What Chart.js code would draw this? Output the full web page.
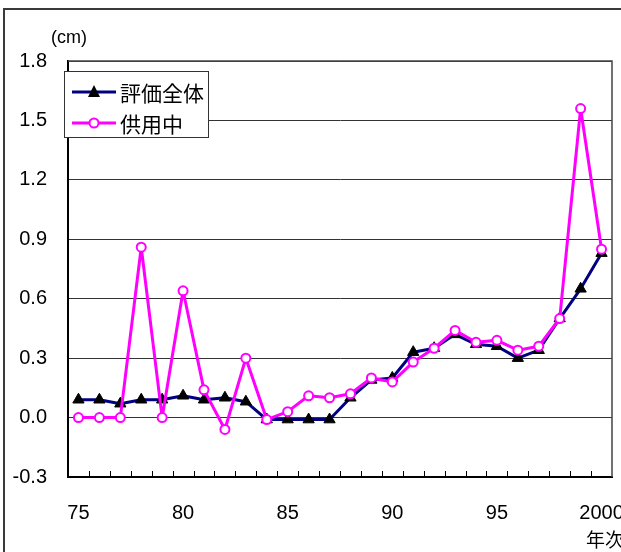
<!DOCTYPE html>
<html>
<head>
<meta charset="utf-8">
<script src="https://cdn.jsdelivr.net/npm/chart.js@4/dist/chart.umd.min.js"></script>
<style>
  html, body { margin: 0; padding: 0; background: #fff; }
  #wrap { width: 621px; height: 552px; position: relative; }
</style>
</head>
<body>
<div id="wrap"><canvas id="chart" width="621" height="552"></canvas></div>
<script>
// Data
const years = ['75', '76', '77', '78', '79', '80', '81', '82', '83', '84', '85', '86', '87',
               '88', '89', '90', '91', '92', '93', '94', '95', '96', '97', '98', '99', '2000'];
const shownYears = ['75', '80', '85', '90', '95', '2000'];
const overall = [0.09, 0.09, 0.07, 0.09, 0.09, 0.11, 0.09, 0.10, 0.08, -0.01, -0.01, -0.01, -0.01,
                 0.10, 0.19, 0.20, 0.33, 0.35, 0.42, 0.37, 0.36, 0.30, 0.34, 0.50, 0.65, 0.83];
const inService = [0.00, 0.00, 0.00, 0.86, 0.00, 0.64, 0.14, -0.06, 0.30, -0.01, 0.03, 0.11, 0.10,
                   0.12, 0.20, 0.18, 0.28, 0.35, 0.44, 0.38, 0.39, 0.34, 0.36, 0.50, 1.56, 0.85];
const seriesNames = ['評価全体', '供用中'];
const yMin = -0.3, yMax = 1.8, yStep = 0.3;
const unitLabel = '(cm)';
const xAxisTitle = '年次';

const NAVY = '#000080';
const MAGENTA = '#ff00ff';
const latin = '"Liberation Sans", Arial, sans-serif';
const cjk = '"Noto Sans CJK JP", sans-serif';

// frame, plot border, inner x ticks, legend and extra labels
const decorations = {
    id: 'decorations',
    beforeDraw(chart) {
        const ctx = chart.ctx;
        ctx.save();
        ctx.fillStyle = '#fff';
        ctx.fillRect(0, 0, chart.width, chart.height);
        ctx.restore();
    },
    afterDraw(chart) {
        const ctx = chart.ctx;
        const area = chart.chartArea;
        const x = chart.scales.x;
        ctx.save();

        // outer frame (top + left only)
        ctx.strokeStyle = '#3a3a3a';
        ctx.lineWidth = 2;
        ctx.beginPath();
        ctx.moveTo(4, chart.height);
        ctx.lineTo(4, 9);
        ctx.lineTo(chart.width, 9);
        ctx.stroke();

        // plot top/right border
        ctx.strokeStyle = '#444';
        ctx.lineWidth = 1.5;
        ctx.beginPath();
        ctx.moveTo(area.left, area.top);
        ctx.lineTo(area.right, area.top);
        ctx.lineTo(area.right, area.bottom);
        ctx.stroke();

        // short tick marks between categories, pointing up
        ctx.strokeStyle = '#000';
        ctx.lineWidth = 1;
        for (let i = 1; i < years.length; i++) {
            const px = Math.round((x.getPixelForValue(i - 1) + x.getPixelForValue(i)) / 2) + 0.5;
            ctx.beginPath();
            ctx.moveTo(px, area.bottom);
            ctx.lineTo(px, area.bottom - 6);
            ctx.stroke();
        }

        // unit and axis title
        ctx.fillStyle = '#000';
        ctx.textBaseline = 'middle';
        ctx.textAlign = 'left';
        ctx.font = '18px ' + latin;
        ctx.fillText(unitLabel, 51, 38);
        ctx.font = '19px ' + cjk;
        ctx.fillText(xAxisTitle, 586, 540);

        // legend box
        const lx = 64, ly = 71, lw = 144, lh = 66;
        ctx.fillStyle = '#fff';
        ctx.fillRect(lx, ly, lw, lh);
        ctx.strokeStyle = '#333';
        ctx.lineWidth = 1;
        ctx.strokeRect(lx + 0.5, ly + 0.5, lw, lh);

        const rows = [
            { y: 92, color: NAVY, name: seriesNames[0], marker: 'triangle' },
            { y: 123, color: MAGENTA, name: seriesNames[1], marker: 'circle' }
        ];
        rows.forEach(r => {
            ctx.strokeStyle = r.color;
            ctx.lineWidth = 3;
            ctx.beginPath();
            ctx.moveTo(72, r.y);
            ctx.lineTo(116, r.y);
            ctx.stroke();
            if (r.marker === 'triangle') {
                ctx.fillStyle = '#000';
                ctx.beginPath();
                ctx.moveTo(94, r.y - 7);
                ctx.lineTo(100, r.y + 5);
                ctx.lineTo(88, r.y + 5);
                ctx.closePath();
                ctx.fill();
            } else {
                ctx.fillStyle = '#fff';
                ctx.strokeStyle = MAGENTA;
                ctx.lineWidth = 2;
                ctx.beginPath();
                ctx.arc(94, r.y, 4.5, 0, Math.PI * 2);
                ctx.fill();
                ctx.stroke();
            }
            ctx.fillStyle = '#000';
            ctx.font = '21px ' + cjk;
            ctx.textAlign = 'left';
            ctx.fillText(r.name, 120, r.y + 1);
        });

        ctx.restore();
    }
};

new Chart(document.getElementById('chart'), {
    type: 'line',
    data: {
        labels: years,
        datasets: [
            {
                label: seriesNames[0],
                data: overall,
                borderColor: NAVY,
                borderWidth: 3,
                borderJoinStyle: 'round',
                pointStyle: 'triangle',
                pointRadius: 6.5,
                pointBackgroundColor: '#000',
                pointBorderColor: '#000',
                pointBorderWidth: 1,
                tension: 0,
                order: 2
            },
            {
                label: seriesNames[1],
                data: inService,
                borderColor: MAGENTA,
                borderWidth: 3,
                borderJoinStyle: 'round',
                pointStyle: 'circle',
                pointRadius: 4.5,
                pointBackgroundColor: '#fff',
                pointBorderColor: MAGENTA,
                pointBorderWidth: 2,
                tension: 0,
                order: 1
            }
        ]
    },
    options: {
        responsive: false,
        animation: false,
        layout: { padding: { top: 61, right: 9, bottom: 0, left: 0 } },
        plugins: {
            legend: { display: false },
            tooltip: { enabled: false }
        },
        scales: {
            x: {
                type: 'category',
                offset: true,
                grid: { display: false, drawTicks: false },
                border: { display: true, color: '#000', width: 2 },
                ticks: {
                    autoSkip: false,
                    maxRotation: 0,
                    color: '#000',
                    padding: 24,
                    font: { family: latin, size: 20 },
                    callback: (v, i) => shownYears.includes(years[i]) ? years[i] : ''
                },
                afterFit: s => { s.height = 75; s.paddingLeft = 0; s.paddingRight = 0; }
            },
            y: {
                min: yMin,
                max: yMax,
                grid: { color: '#333', lineWidth: 1, drawTicks: false },
                border: { display: true, color: '#000', width: 2 },
                ticks: {
                    stepSize: yStep,
                    color: '#000',
                    padding: 21,
                    font: { family: latin, size: 20 },
                    callback: v => Math.abs(v) < 1e-9 ? '0.0' : Number(v).toFixed(1)
                },
                afterFit: s => { s.width = 68; s.paddingTop = 0; s.paddingBottom = 0; }
            }
        }
    },
    plugins: [decorations]
});
</script>
</body>
</html>
